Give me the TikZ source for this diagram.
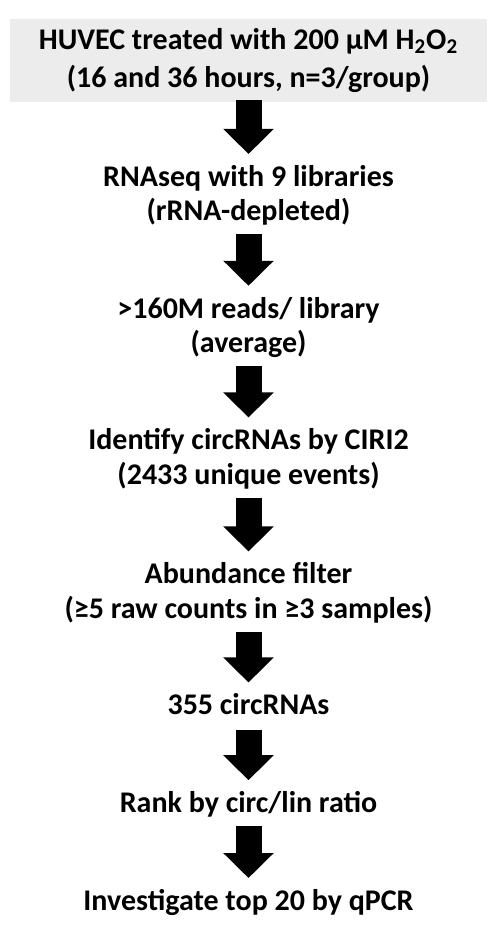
\documentclass[tikz,border=0pt]{standalone}
\usepackage{fontspec}
\setmainfont{Carlito}
\usetikzlibrary{arrows.meta}

\begin{document}
\begin{tikzpicture}[x=0.5pt,y=-0.5pt,
  every node/.style={font=\bfseries\fontsize{15}{17.25}\selectfont,align=center,inner sep=0pt},
  flow/.style={line width=13pt,-{Triangle[length=12.5pt,width=24.5pt]},shorten <=4pt,shorten >=5.5pt}]
\useasboundingbox (0,0) rectangle (494,925);
\node[fill=gray!15,minimum width=238.5pt,minimum height=41.5pt,font=\bfseries\fontsize{15}{19}\selectfont] (huvec) at (248.5,60.5) {HUVEC treated with 200 µM H\textsubscript{2}O\textsubscript{2}\\(16 and 36 hours, n=3/group)};
\node (rnaseq) at (248.5,195.5) {RNAseq with 9 libraries\\(rRNA-depleted)};
\node (reads) at (248.5,327.5) {>160M reads/ library\\(average)};
\node (ciri) at (248.5,459) {Identify circRNAs by CIRI2\\(2433 unique events)};
\node (filter) at (248.5,593) {Abundance filter\\(≥5 raw counts in ≥3 samples)};
\node (circ) at (248.5,704.5) {355 circRNAs};
\node (rank) at (248.5,804.5) {Rank by circ/lin ratio};
\node (qpcr) at (248.5,902.5) {Investigate top 20 by qPCR};
\draw[flow,shorten <=-1pt] (huvec) -- (rnaseq);
\draw[flow] (rnaseq) -- (reads);
\draw[flow] (reads) -- (ciri);
\draw[flow] (ciri) -- (filter);
\draw[flow] (filter) -- (circ);
\draw[flow,shorten <=7pt] (circ) -- (rank);
\draw[flow] (rank) -- (qpcr);
\end{tikzpicture}
\end{document}
